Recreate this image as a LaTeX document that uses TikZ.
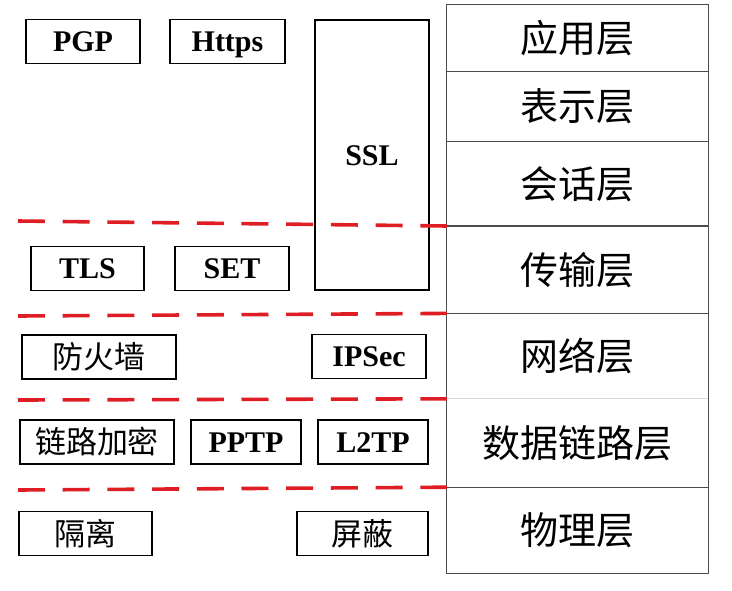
\documentclass[tikz,border=0pt]{standalone}
\usepackage{fontspec}
\setmainfont{Liberation Serif}
\newfontfamily\cjk{Noto Sans CJK SC}
\usepackage{tikz}
\usetikzlibrary{positioning,calc}
\definecolor{cutred}{RGB}{222,30,36}

\begin{document}
\begin{tikzpicture}[x=1pt, y=-1pt,
    proto/.style={draw, line width=1.4pt, minimum height=44pt, inner sep=0pt, text height=20pt, text depth=0pt, font=\fontsize{30}{30}\selectfont\bfseries},
    cnbox/.style={proto, text height=23.5pt, font=\fontsize{31}{31}\selectfont\cjk},
    layer/.style={minimum width=261pt, inner sep=0pt, text height=29pt, text depth=0pt, font=\fontsize{38}{38}\selectfont\cjk},
    cut/.style={cutred, line width=3.6pt, dash pattern=on 27pt off 17.7pt}]
    \useasboundingbox (0,0) rectangle (732,590);

    % OSI layers on the right
    \node (app) [layer, minimum height=66pt] at (577.5,38) {应用层};
    \node (pre) [layer, minimum height=70pt, below=0pt of app] {表示层};
    \node (ses) [layer, minimum height=84pt, below=0pt of pre] {会话层};
    \node (tra) [layer, minimum height=87pt, below=0pt of ses] {传输层};
    \node (net) [layer, minimum height=85pt, below=0pt of tra] {网络层};
    \node (dl)  [layer, minimum height=88pt, below=0pt of net] {数据链路层};
    \node (phy) [layer, minimum height=86pt, below=0pt of dl] {物理层};
    \draw[line width=1.2pt, black!70] (app.north west) rectangle (phy.south east);
    \foreach \l in {app,pre,ses,tra,dl}
        \draw[line width=1.2pt, black!70] (\l.south west) -- (\l.south east);
    \draw[line width=0.8pt, black!15] (net.south west) -- (net.south east);

    % protocols and measures
    \node (pgp)   [proto, minimum width=114pt] at (83,41.5) {PGP};
    \node (https) [proto, minimum width=115pt] at (227.5,41.5) {Https};
    \node (ssl)   [proto, minimum width=114pt, minimum height=270pt] at (372,155) {SSL};
    \node (tls)   [proto, minimum width=113pt] at (87.5,268.5) {TLS};
    \node (set)   [proto, minimum width=114pt] at (232,268.5) {SET};
    \node (fw)    [cnbox, minimum width=154pt] at (99,357) {防火墙};
    \node (ipsec) [proto, minimum width=114pt] at (369,356.5) {IPSec};
    \node (enc)   [cnbox, minimum width=154pt] at (97,442) {链路加密};
    \node (pptp)  [proto, minimum width=110pt] at (246,442) {PPTP};
    \node (l2tp)  [proto, minimum width=110pt] at (373,442) {L2TP};
    \node (iso)   [cnbox, minimum width=133pt] at (85.5,533.5) {隔离};
    \node (shd)   [cnbox, minimum width=131pt] at (362.5,533.5) {屏蔽};

    % red cut lines
    \coordinate (c1) at (18,221);
    \coordinate (c2) at (18,316);
    \coordinate (c3) at (18,400);
    \coordinate (c4) at (18,490);
    \draw[cut] (c1) -- (tra.north west);
    \draw[cut] (c2) -- (net.north west);
    \draw[cut] (c3) -- (dl.north west);
    \draw[cut] (c4) -- (phy.north west);
\end{tikzpicture}
\end{document}
